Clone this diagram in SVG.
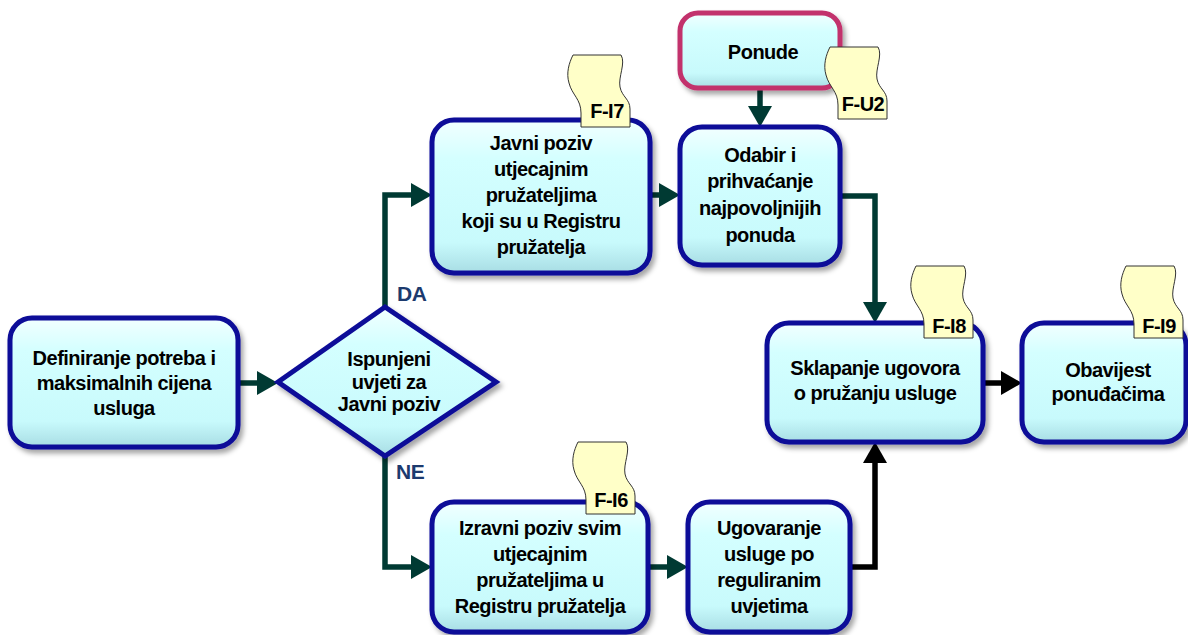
<svg xmlns="http://www.w3.org/2000/svg" width="1188" height="635" viewBox="0 0 1188 635">
<defs>
<linearGradient id="bf" x1="0" y1="0" x2="0" y2="1">
<stop offset="0" stop-color="#f2ffff"/>
<stop offset="0.25" stop-color="#d4ffff"/>
<stop offset="0.8" stop-color="#c8fafc"/>
<stop offset="1" stop-color="#a8dde4"/>
</linearGradient>
<filter id="sh" x="-10%" y="-10%" width="125%" height="125%">
<feDropShadow dx="3" dy="4" stdDeviation="2.5" flood-color="#000" flood-opacity="0.35"/>
</filter>
<marker id="ah" markerUnits="userSpaceOnUse" markerWidth="22" markerHeight="26" refX="1" refY="13" orient="auto">
<path d="M0,1 L21,13 L0,25 Z" fill="#003a33"/>
</marker>
<marker id="ahk" markerUnits="userSpaceOnUse" markerWidth="22" markerHeight="26" refX="1" refY="13" orient="auto">
<path d="M0,1 L21,13 L0,25 Z" fill="#000"/>
</marker>
<path id="doc" d="M6,0 H54 C59,8 51,22 53,32 C55,42 63,44 63,54 V72 H14 V58 C14,44 5,40 2,28 C-1,18 2,8 6,0 Z"/>
</defs>
<style>
.box{fill:url(#bf);stroke:#0c0c98;stroke-width:5;filter:url(#sh)}
.pbox{fill:url(#bf);stroke:#c2306c;stroke-width:5;filter:url(#sh)}
.t{font-family:"Liberation Sans",Arial,sans-serif;font-weight:bold;font-size:20px;letter-spacing:-0.5px;fill:#000;text-anchor:middle}
.lbl{font-family:"Liberation Sans",Arial,sans-serif;font-weight:bold;font-size:21px;letter-spacing:-0.5px;fill:#1c3a6e}
.dt{font-family:"Liberation Sans",Arial,sans-serif;font-weight:bold;font-size:20px;letter-spacing:-0.5px;fill:#000;text-anchor:middle}
.doc{fill:#ffffc8;stroke:#333;stroke-width:1}
.c{fill:none;stroke:#003a33;stroke-width:5.5;marker-end:url(#ah)}
.ck{fill:none;stroke:#000;stroke-width:5.5;marker-end:url(#ahk)}
</style>
<rect width="1188" height="635" fill="#fff"/>

<g id="connectors">
<path class="c" d="M238,383 H258"/>
<path class="c" d="M385,307 V195 H412"/>
<path class="c" d="M385,457 V567 H412"/>
<path class="c" d="M650,195 H660"/>
<path class="c" d="M760,88 V107"/>
<path class="c" d="M840,196 H875 V303"/>
<path class="c" d="M648,567 H668"/>
<path class="ck" d="M850,567 H875 V462"/>
<path class="ck" d="M983,383 H1002"/>
</g>

<g id="n-definiranje">
<rect class="box" x="10" y="318" width="228" height="129" rx="22"/>
<text class="t" x="124" y="365">Definiranje potreba i</text>
<text class="t" x="124" y="390">maksimalnih cijena</text>
<text class="t" x="124" y="415">usluga</text>
</g>

<g id="n-ispunjeni">
<polygon class="box" points="278,382 385,307 496,382 385,456"/>
<text class="t" x="389" y="366">Ispunjeni</text>
<text class="t" x="389" y="389">uvjeti za</text>
<text class="t" x="389" y="411">Javni poziv</text>
</g>

<g id="l-da"><text class="lbl" x="397" y="301">DA</text></g>
<g id="l-ne"><text class="lbl" x="396" y="479">NE</text></g>

<g id="n-javni">
<rect class="box" x="432" y="120" width="218" height="153" rx="22"/>
<text class="t" x="541" y="150">Javni poziv</text>
<text class="t" x="541" y="176">utjecajnim</text>
<text class="t" x="541" y="202">pružateljima</text>
<text class="t" x="541" y="228">koji su u Registru</text>
<text class="t" x="541" y="254">pružatelja</text>
</g>
<g id="d-fi7">
<use href="#doc" class="doc" transform="translate(567,55)"/>
<text class="dt" x="607" y="118">F-I7</text>
</g>

<g id="n-ponude">
<rect class="pbox" x="680" y="13" width="160" height="75" rx="18"/>
<text class="t" x="763" y="59">Ponude</text>
</g>
<g id="d-fu2">
<use href="#doc" class="doc" transform="translate(824,47)"/>
<text class="dt" x="863" y="111">F-U2</text>
</g>

<g id="n-odabir">
<rect class="box" x="680" y="127" width="160" height="138" rx="22"/>
<text class="t" x="760" y="162">Odabir i</text>
<text class="t" x="760" y="188">prihvaćanje</text>
<text class="t" x="760" y="215">najpovoljnijih</text>
<text class="t" x="760" y="242">ponuda</text>
</g>

<g id="n-sklapanje">
<rect class="box" x="767" y="323" width="216" height="119" rx="22"/>
<text class="t" x="875" y="375">Sklapanje ugovora</text>
<text class="t" x="875" y="400">o pružanju usluge</text>
</g>
<g id="d-fi8">
<use href="#doc" class="doc" transform="translate(910,266)"/>
<text class="dt" x="949" y="333">F-I8</text>
</g>

<g id="n-obavijest">
<rect class="box" x="1022" y="323" width="164" height="119" rx="22"/>
<text class="t" x="1108" y="377">Obavijest</text>
<text class="t" x="1108" y="401">ponuđačima</text>
</g>
<g id="d-fi9">
<use href="#doc" class="doc" transform="translate(1120,266)"/>
<text class="dt" x="1159" y="333">F-I9</text>
</g>

<g id="n-izravni">
<rect class="box" x="432" y="502" width="216" height="130" rx="22"/>
<text class="t" x="540" y="535">Izravni poziv svim</text>
<text class="t" x="540" y="561">utjecajnim</text>
<text class="t" x="540" y="587">pružateljima u</text>
<text class="t" x="540" y="613">Registru pružatelja</text>
</g>
<g id="d-fi6">
<use href="#doc" class="doc" transform="translate(572,442)"/>
<text class="dt" x="611" y="507">F-I6</text>
</g>

<g id="n-ugovaranje">
<rect class="box" x="688" y="502" width="162" height="130" rx="22"/>
<text class="t" x="769" y="535">Ugovaranje</text>
<text class="t" x="769" y="561">usluge po</text>
<text class="t" x="769" y="587">reguliranim</text>
<text class="t" x="769" y="613">uvjetima</text>
</g>
</svg>
